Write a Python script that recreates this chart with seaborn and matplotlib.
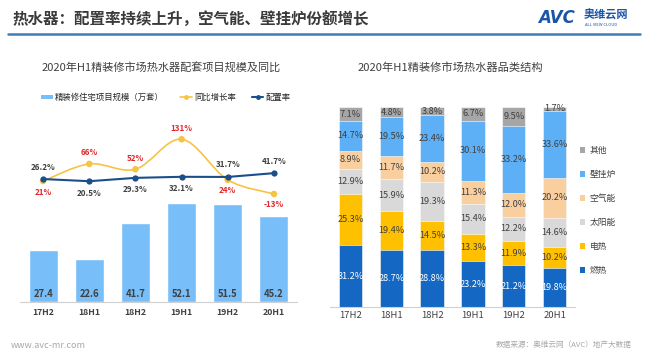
import matplotlib
matplotlib.use("Agg")
import matplotlib.pyplot as plt
import numpy as np
import pandas as pd
import seaborn as sns
from matplotlib.lines import Line2D
from matplotlib.patches import Patch, PathPatch
from matplotlib.path import Path

# ---- data ----
periods = ["17H2", "18H1", "18H2", "19H1", "19H2", "20H1"]
project_scale = [27.4, 22.6, 41.7, 52.1, 51.5, 45.2]   # 万套
yoy_growth = [21, 66, 52, 131, 24, -13]                # %
config_rate = [26.2, 20.5, 29.3, 32.1, 31.7, 41.7]     # %

categories = ["燃热", "电热", "太阳能", "空气能", "壁挂炉", "其他"]
share_gas = [31.2, 28.7, 28.8, 23.2, 21.2, 19.8]
share_electric = [25.3, 19.4, 14.5, 13.3, 11.9, 10.2]
share_solar = [12.9, 15.9, 19.3, 15.4, 12.2, 14.6]
share_air = [8.9, 11.7, 10.2, 11.3, 12.0, 20.2]
share_boiler = [14.7, 19.5, 23.4, 30.1, 33.2, 33.6]
share_other = [7.1, 4.8, 3.8, 6.7, 9.5, 1.7]

# label placement for the two lines: +1 above the point, -1 below
config_side = [1, -1, -1, -1, 1, 1]
yoy_side = [-1, 1, 1, 1, -1, -1]

BAR_BLUE = "#78bef9"
YELLOW = "#f7c343"
NAVY = "#1b4f8a"
RED = "#e5262b"
TEXT = "#404040"
cat_colors = ["#1468c4", "#ffc000", "#d9d9d9", "#f9cfa0", "#5db0f5", "#a6a6a6"]

sns.set_theme(style="white")
plt.rcParams["font.family"] = ["Noto Sans CJK SC", "DejaVu Sans"]
plt.rcParams["axes.unicode_minus"] = False

W, H = 650, 357
fig = plt.figure(figsize=(W / 100, H / 100), dpi=100)
fig.patch.set_facecolor("white")


def px_axes(x0, y_top, x1, y_bottom):
    return fig.add_axes([x0 / W, 1 - y_bottom / H, (x1 - x0) / W, (y_bottom - y_top) / H])


def clean(ax):
    for side in ["top", "left", "right"]:
        ax.spines[side].set_visible(False)
    ax.spines["bottom"].set_color("#d0d0d0")
    ax.spines["bottom"].set_linewidth(0.8)
    ax.set_yticks([])
    ax.set_xlabel("")
    ax.set_ylabel("")
    ax.tick_params(axis="x", length=0)
    ax.patch.set_alpha(0)


# ---- header ----
fig.text(12 / W, 1 - 19 / H, "热水器：配置率持续上升，空气能、壁挂炉份额增长",
         fontsize=11.2, fontweight="bold", color="#3a3a3a", va="center")
fig.add_artist(Line2D([8 / W, 640 / W], [1 - 33.5 / H] * 2, color="#3f7db8", lw=1.8))
fig.text(538 / W, 1 - 18 / H, "AVC", fontsize=12, fontweight="bold", fontstyle="italic",
         color="#1a55a6", va="center", family=["DejaVu Sans"])
fig.text(584 / W, 1 - 15 / H, "奥维云网", fontsize=8, fontweight="bold", color="#1a55a6", va="center")
fig.text(585 / W, 1 - 24.5 / H, "ALL VIEW CLOUD", fontsize=3, color="#1a55a6", va="center")

# ---- left: project scale bars + two lines ----
ax1 = px_axes(20, 120, 297, 302)
sns.barplot(x=periods, y=project_scale, color=BAR_BLUE, saturation=1, width=0.63, ax=ax1)
ax1.set_ylim(0, 182 / 1.9)
ax1.set_xlim(-0.5, 5.5)
clean(ax1)
ax1.tick_params(axis="x", pad=4)
for lab in ax1.get_xticklabels():
    lab.set_fontsize(6.3)
    lab.set_fontweight("bold")
    lab.set_color(TEXT)
for i, v in enumerate(project_scale):
    ax1.text(i, 4.2, f"{v}", ha="center", va="center", fontsize=6.8,
             fontweight="bold", color=TEXT)

ax2 = ax1.twinx()
ax2.set_ylim(-297.4, 181.6)
for side in ["top", "left", "right", "bottom"]:
    ax2.spines[side].set_visible(False)
ax2.set_yticks([])

xs = np.arange(len(periods))

# smooth yellow line: Catmull-Rom segments written as cubic Bezier path
pts = np.column_stack([xs, yoy_growth]).astype(float)
ext = np.vstack([pts[0], pts, pts[-1]])
verts, codes = [pts[0]], [Path.MOVETO]
for k in range(1, len(ext) - 2):
    p0, p1, p2, p3 = ext[k - 1], ext[k], ext[k + 1], ext[k + 2]
    verts += [p1 + (p2 - p0) / 6, p2 - (p3 - p1) / 6, p2]
    codes += [Path.CURVE4] * 3
ax2.add_patch(PathPatch(Path(verts, codes), fill=False, edgecolor=YELLOW, lw=1.2, zorder=3))
sns.scatterplot(x=xs, y=yoy_growth, color=YELLOW, s=22, edgecolor="none", ax=ax2, zorder=4)

sns.lineplot(x=xs, y=config_rate, color=NAVY, lw=1.5, marker="o", markersize=4.5,
             markeredgewidth=0, ax=ax2, zorder=5)

for i, v in enumerate(config_rate):
    ax2.annotate(f"{v}%", (i, v), xytext=(0, 12 * config_side[i]), textcoords="offset pixels",
                 ha="center", va="center", fontsize=5.8, fontweight="bold", color=TEXT)
for i, v in enumerate(yoy_growth):
    ax2.annotate(f"{v}%", (i, v), xytext=(0, 11 * yoy_side[i]), textcoords="offset pixels",
                 ha="center", va="center", fontsize=5.8, fontweight="bold", color=RED)
ax2.set_xlim(-0.5, 5.5)

fig.text(161 / W, 1 - 67 / H, "2020年H1精装修市场热水器配套项目规模及同比",
         fontsize=8, color=TEXT, ha="center", va="center")
left_handles = [
    Patch(facecolor=BAR_BLUE, edgecolor="none"),
    Line2D([], [], color=YELLOW, lw=1.2, marker="o", markersize=3.5, markeredgewidth=0),
    Line2D([], [], color=NAVY, lw=1.5, marker="o", markersize=3.5, markeredgewidth=0),
]
fig.legend(left_handles, ["精装修住宅项目规模（万套）", "同比增长率", "配置率"],
           loc="center left", bbox_to_anchor=(41 / W, 1 - 97.5 / H), ncol=3, frameon=False,
           fontsize=6, handlelength=1.4, handleheight=0.45, handletextpad=0.3,
           columnspacing=1.9, borderpad=0, borderaxespad=0)

# ---- right: category structure, stacked ----
shares = pd.DataFrame(
    {"燃热": share_gas, "电热": share_electric, "太阳能": share_solar,
     "空气能": share_air, "壁挂炉": share_boiler, "其他": share_other},
    index=periods,
)
tops = shares.cumsum(axis=1)

ax3 = px_axes(330, 100, 575, 307.3)
for j in range(len(categories) - 1, -1, -1):
    sns.barplot(x=periods, y=tops[categories[j]].values, color=cat_colors[j], saturation=1,
                width=0.57, edgecolor="white", linewidth=0.4, ax=ax3)
ax3.set_ylim(0, 207.3 / 2)
ax3.set_xlim(-0.5, 5.5)
clean(ax3)
ax3.tick_params(axis="x", pad=3)
for lab in ax3.get_xticklabels():
    lab.set_fontsize(6.8)
    lab.set_color(TEXT)

for j, cat in enumerate(categories):
    for i, p in enumerate(periods):
        v = shares.loc[p, cat]
        mid = tops.loc[p, cat] - v / 2
        ax3.text(i, mid, f"{v:.1f}%", ha="center", va="center", fontsize=6.6,
                 color="white" if j == 0 else TEXT)

fig.text(450 / W, 1 - 67.5 / H, "2020年H1精装修市场热水器品类结构",
         fontsize=8.1, color=TEXT, ha="center", va="center")
right_handles = [Patch(facecolor=c, edgecolor="none") for c in cat_colors][::-1]
fig.legend(right_handles, categories[::-1], loc="upper left",
           bbox_to_anchor=(580 / W, 1 - 146 / H), frameon=False, fontsize=6.3,
           handlelength=0.6, handleheight=0.6, handletextpad=0.5, labelspacing=1.72,
           borderpad=0, borderaxespad=0, labelcolor=TEXT)

# ---- footer ----
fig.text(11 / W, 1 - 345.5 / H, "www.avc-mr.com", fontsize=6.5, color="#a8a8a8", va="center")
fig.text(632 / W, 1 - 345.5 / H, "数据来源：奥维云网（AVC）地产大数据", fontsize=5.5,
         color="#a8a8a8", va="center", ha="right")

fig.savefig("out.png", dpi=100)
